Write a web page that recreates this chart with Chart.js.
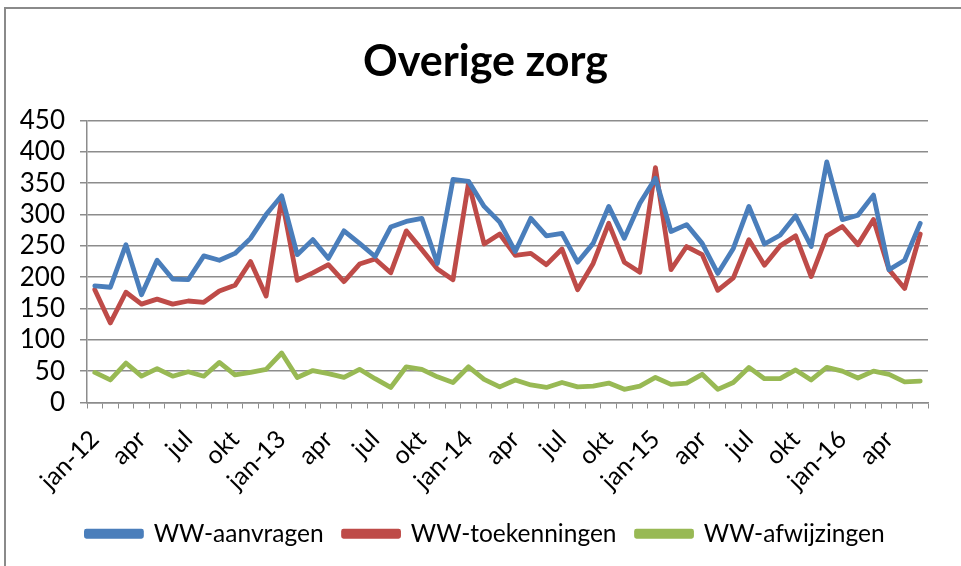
<!DOCTYPE html>
<html>
<head>
<meta charset="utf-8">
<script src="https://cdn.jsdelivr.net/npm/chart.js@4"></script>
<style>
  body { margin: 0; background: #fff; }
  #wrap { width: 961px; height: 566px; position: relative; }
</style>
</head>
<body>
<div id="wrap"><canvas id="chart" width="961" height="566"></canvas></div>
<script>
// maanden jan-12 t/m jun-16
const months = [
  'jan-12', 'feb', 'mrt', 'apr', 'mei', 'jun', 'jul', 'aug', 'sep', 'okt', 'nov', 'dec',
  'jan-13', 'feb', 'mrt', 'apr', 'mei', 'jun', 'jul', 'aug', 'sep', 'okt', 'nov', 'dec',
  'jan-14', 'feb', 'mrt', 'apr', 'mei', 'jun', 'jul', 'aug', 'sep', 'okt', 'nov', 'dec',
  'jan-15', 'feb', 'mrt', 'apr', 'mei', 'jun', 'jul', 'aug', 'sep', 'okt', 'nov', 'dec',
  'jan-16', 'feb', 'mrt', 'apr', 'mei', 'jun'
];

const aanvragen = [
  186, 184, 252, 172, 227, 197, 196, 234, 227, 238, 262, 300,
  330, 236, 260, 230, 274, 254, 233, 280, 289, 294, 222, 356,
  353, 313, 288, 241, 294, 266, 270, 224, 254, 313, 262, 318,
  358, 273, 284, 254, 206, 246, 313, 253, 267, 298, 249, 384,
  292, 299, 331, 212, 227, 286
];

const toekenningen = [
  180, 127, 176, 157, 165, 157, 162, 160, 178, 187, 225, 170,
  326, 195, 207, 220, 193, 221, 229, 207, 274, 244, 213, 196,
  351, 253, 269, 235, 238, 220, 245, 180, 222, 286, 224, 208,
  375, 212, 249, 236, 179, 199, 260, 219, 250, 266, 201, 266,
  281, 252, 292, 212, 182, 269
];

const afwijzingen = [
  48, 36, 63, 42, 54, 42, 49, 42, 64, 44, 48, 53,
  79, 40, 51, 46, 40, 53, 38, 24, 57, 53, 41, 32,
  57, 37, 25, 36, 28, 24, 32, 25, 26, 31, 21, 26,
  40, 29, 31, 45, 21, 32, 56, 38, 38, 52, 36, 56,
  50, 39, 50, 45, 33, 34
];

const yTicks = [0, 50, 100, 150, 200, 250, 300, 350, 400, 450];

const FONT = "Lato, 'Open Sans', sans-serif";
const GRID = '#8c8c8c';

// rand om de grafiek (alleen boven en links zichtbaar)
const frame = {
  id: 'frame',
  afterDraw(chart) {
    const ctx = chart.ctx;
    ctx.save();
    ctx.strokeStyle = '#8a8a8a';
    ctx.lineWidth = 2;
    ctx.beginPath();
    ctx.moveTo(5, 566);
    ctx.lineTo(5, 8);
    ctx.lineTo(961, 8);
    ctx.stroke();
    ctx.restore();
  }
};

function serie(label, data, color) {
  return {
    label: label,
    data: data,
    borderColor: color,
    backgroundColor: color,
    borderWidth: 4.8,
    pointRadius: 0,
    tension: 0,
    borderJoinStyle: 'round',
    borderCapStyle: 'round'
  };
}

new Chart(document.getElementById('chart'), {
  type: 'line',
  data: {
    labels: months,
    datasets: [
      serie('WW-aanvragen', aanvragen, '#4a7ebb'),
      serie('WW-toekenningen', toekenningen, '#be4b48'),
      serie('WW-afwijzingen', afwijzingen, '#98b954')
    ]
  },
  options: {
    responsive: false,
    animation: false,
    layout: { padding: { left: 10, right: 0, top: 8, bottom: 10 } },
    plugins: {
      title: {
        display: true,
        text: 'Overige zorg',
        color: '#000',
        font: { family: FONT, size: 43, weight: 'bold' },
        padding: { top: 28, bottom: 33 }
      },
      legend: {
        position: 'bottom',
        labels: {
          color: '#000',
          font: { family: FONT, size: 24.5 },
          boxWidth: 55,
          boxHeight: 5,
          padding: 20
        }
      },
      tooltip: { enabled: false }
    },
    scales: {
      x: {
        offset: true,
        grid: {
          offset: true,
          drawOnChartArea: false,
          drawTicks: true,
          tickLength: 6,
          color: GRID
        },
        border: { color: GRID, width: 1.5 },
        ticks: {
          autoSkip: false,
          minRotation: 45,
          maxRotation: 45,
          padding: 16,
          color: '#000',
          font: { family: FONT, size: 25 },
          callback: function (v, i) {
            return i % 3 === 0 ? months[i] : '';
          }
        },
        afterFit: function (scale) { scale.height = 99; }
      },
      y: {
        min: 0,
        max: 450,
        afterBuildTicks: function (scale) {
          scale.ticks = yTicks.map(v => ({ value: v }));
        },
        grid: { color: GRID, lineWidth: 1.5, tickLength: 7 },
        border: { color: GRID, width: 1.5 },
        ticks: {
          autoSkip: false,
          color: '#000',
          font: { family: FONT, size: 26 },
          padding: 15
        },
        afterFit: function (scale) { scale.width = 77; }
      },
      // lege ruimte rechts van het plotvlak
      rechts: {
        position: 'right',
        display: true,
        grid: { display: false },
        border: { display: false },
        ticks: { display: false },
        afterFit: function (scale) { scale.width = 33; }
      }
    }
  },
  plugins: [frame]
});
</script>
</body>
</html>
